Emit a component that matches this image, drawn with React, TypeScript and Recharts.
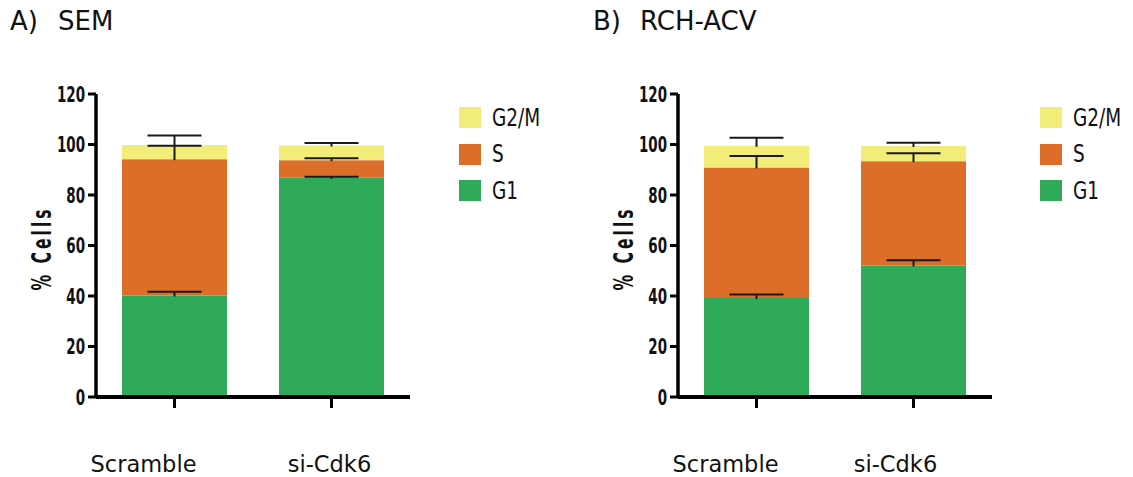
import { BarChart, Bar, XAxis, YAxis } from "recharts";

// cell-cycle phase fractions (% cells)
const categories = ["Scramble", "si-Cdk6"];

const semG1 = [40.2, 86.8];
const semG1Err = [1.5, 0.4];
const semS = [54.0, 7.0];
const semSErr = [5.3, 0.8];
const semG2m = [5.6, 5.8];
const semG2mErr = [3.8, 1.0];

const rchG1 = [39.2, 52.1];
const rchG1Err = [1.4, 2.1];
const rchS = [51.7, 41.3];
const rchSErr = [4.5, 3.1];
const rchG2m = [8.6, 6.0];
const rchG2mErr = [3.2, 1.3];

const yTicks = [0, 20, 40, 60, 80, 100, 120];

const COLORS = { g2m: "#F2EC78", s: "#DC6E2A", g1: "#2EAA58" };
const legendItems = [
  { name: "G2/M", color: COLORS.g2m },
  { name: "S", color: COLORS.s },
  { name: "G1", color: COLORS.g1 },
];

const SANS = "'DejaVu Sans', sans-serif";

type Row = {
  name: string;
  g1: number;
  s: number;
  g2m: number;
  g1Err: number;
  sErr: number;
  g2mErr: number;
};

function buildRows(g1: number[], g1Err: number[], s: number[], sErr: number[], g2m: number[], g2mErr: number[]): Row[] {
  return categories.map((name, i) => ({
    name,
    g1: g1[i],
    s: s[i],
    g2m: g2m[i],
    g1Err: g1Err[i],
    sErr: sErr[i],
    g2mErr: g2mErr[i],
  }));
}

const semRows = buildRows(semG1, semG1Err, semS, semSErr, semG2m, semG2mErr);
const rchRows = buildRows(rchG1, rchG1Err, rchS, rchSErr, rchG2m, rchG2mErr);

// top segment: draws its rect, then the upward error bars of all three segments on top
function TopSegment(props: any) {
  const { x, y, width, height, fill, payload } = props;
  const row = payload as Row;
  const k = height / row.g2m; // px per unit, from the bar the library laid out
  const y0 = y + height + (row.g1 + row.s) * k;
  const cx = x + width / 2;
  const half = 27;
  const py = (v: number) => y0 - v * k;
  const tops = [
    [row.g1, row.g1Err],
    [row.g1 + row.s, row.sErr],
    [row.g1 + row.s + row.g2m, row.g2mErr],
  ];
  return (
    <g>
      <rect x={x} y={y} width={width} height={height} fill={fill} />
      {tops.map(([top, err], i) => (
        <g key={i} stroke="#1a1a1a" strokeWidth={2}>
          <line x1={cx} x2={cx} y1={py(top) + 1} y2={py(top + err)} />
          <line x1={cx - half} x2={cx + half} y1={py(top + err)} y2={py(top + err)} />
        </g>
      ))}
    </g>
  );
}

function makeTick(offsets: number[]) {
  return function CatTick(props: any) {
    const { x, payload, index } = props;
    return (
      <text x={x + offsets[index]} y={472} textAnchor="middle" style={{ fontFamily: SANS, fontSize: 22.5 }} fill="#111">
        {payload.value}
      </text>
    );
  };
}

// condensed bold numbers, squeezed horizontally
function NumTick(props: any) {
  const { x, y, payload } = props;
  return (
    <g transform={`translate(${x},${y}) scale(0.64,1)`}>
      <text x={0} y={0} dy={7.5} textAnchor="end" style={{ fontFamily: SANS, fontWeight: "bold", fontSize: 21 }} fill="#111">
        {payload.value}
      </text>
    </g>
  );
}

function YLabel(props: any) {
  const { viewBox } = props;
  const cx = viewBox.x + 12;
  const cy = viewBox.y + viewBox.height / 2 + 3;
  return (
    <g transform={`translate(${cx},${cy}) rotate(-90) scale(0.6,1)`}>
      <text
        x={0}
        y={0}
        dy={9}
        textAnchor="middle"
        letterSpacing="5"
        style={{ fontFamily: SANS, fontWeight: "bold", fontSize: 26 }}
        fill="#111"
      >
        % Cells
      </text>
    </g>
  );
}

function Panel({ rows, left, tickOffsets }: { rows: Row[]; left: number; tickOffsets: number[] }) {
  return (
    <div style={{ position: "absolute", left, top: 0 }}>
      <BarChart width={420} height={477} data={rows} margin={{ top: 94, right: 10, bottom: 0, left: 30 }} barCategoryGap={26}>
        <XAxis
          dataKey="name"
          height={80}
          axisLine={{ stroke: "#000", strokeWidth: 4 }}
          tickLine={{ stroke: "#000", strokeWidth: 3 }}
          tickSize={11}
          tick={makeTick(tickOffsets)}
          interval={0}
        />
        <YAxis
          width={66}
          domain={[0, 120]}
          ticks={yTicks}
          interval={0}
          axisLine={{ stroke: "#000", strokeWidth: 3.5 }}
          tickLine={{ stroke: "#000", strokeWidth: 3 }}
          tickSize={8}
          tickMargin={3}
          tick={<NumTick />}
          label={<YLabel />}
        />
        <Bar dataKey="g1" stackId="a" fill={COLORS.g1} barSize={105} isAnimationActive={false} />
        <Bar dataKey="s" stackId="a" fill={COLORS.s} barSize={105} isAnimationActive={false} />
        <Bar dataKey="g2m" stackId="a" fill={COLORS.g2m} barSize={105} isAnimationActive={false} shape={<TopSegment />} />
      </BarChart>
    </div>
  );
}

function Legend({ left }: { left: number }) {
  return (
    <div style={{ position: "absolute", left, top: 107 }}>
      {legendItems.map((it, i) => (
        <div key={it.name} style={{ position: "absolute", top: i * 36.5, left: 0, display: "flex", alignItems: "center", height: 21 }}>
          <div style={{ width: 22, height: 21, background: it.color, flex: "none" }} />
          <span
            style={{
              display: "inline-block",
              marginLeft: 11,
              fontFamily: SANS,
              fontSize: 24,
              lineHeight: 1,
              color: "#111",
              whiteSpace: "nowrap",
              transform: "scaleX(0.77)",
              transformOrigin: "left center",
            }}
          >
            {it.name}
          </span>
        </div>
      ))}
    </div>
  );
}

function Title({ letter, text, left, textLeft }: { letter: string; text: string; left: number; textLeft: number }) {
  const style = { position: "absolute" as const, top: 8, fontFamily: SANS, fontSize: 26, lineHeight: "26px", color: "#111", whiteSpace: "nowrap" as const };
  return (
    <>
      <span style={{ ...style, left }}>{letter}</span>
      <span style={{ ...style, left: textLeft }}>{text}</span>
    </>
  );
}

export default function App() {
  return (
    <div style={{ position: "absolute", left: 0, top: 0, width: 1133, height: 477, background: "#fff", overflow: "hidden" }}>
      <Title letter="A)" text="SEM" left={10} textLeft={58} />
      <Title letter="B)" text="RCH-ACV" left={593} textLeft={640} />
      <Panel rows={semRows} left={0} tickOffsets={[-31, -2]} />
      <Panel rows={rchRows} left={582} tickOffsets={[-31, -18]} />
      <Legend left={459} />
      <Legend left={1040} />
    </div>
  );
}
